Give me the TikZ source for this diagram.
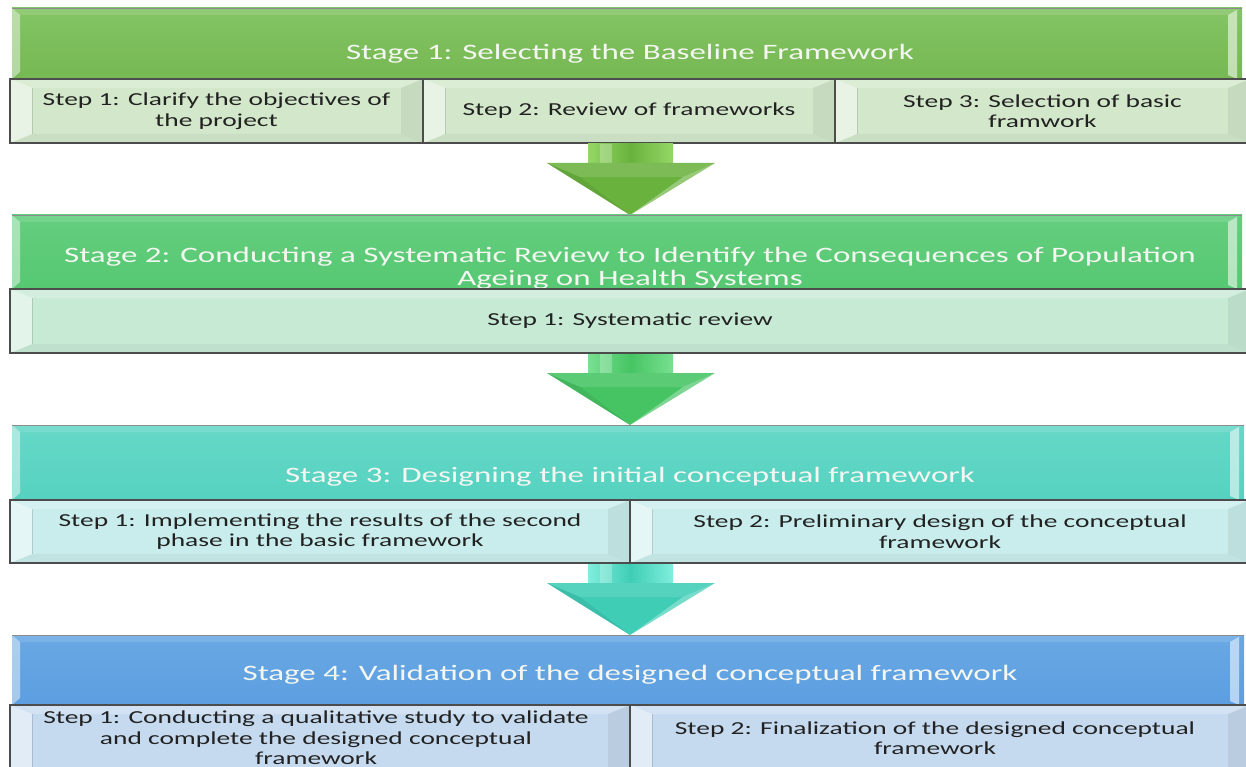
\documentclass[tikz,border=0pt]{standalone}
\usepackage{fontspec}
\setmainfont{Carlito}[FakeStretch=1.5]
\usetikzlibrary{calc}

% stage colours: bar top, bar bottom, cell fill, arrow main, arrow light
\definecolor{barAt}{HTML}{84C464}\definecolor{barAb}{HTML}{76B853}\definecolor{cellA}{HTML}{D3E8CB}
\definecolor{barBt}{HTML}{64CE7E}\definecolor{barBb}{HTML}{56C872}\definecolor{cellB}{HTML}{C7EAD5}
\definecolor{barCt}{HTML}{66D8C8}\definecolor{barCb}{HTML}{56D2C0}\definecolor{cellC}{HTML}{C9EDEC}
\definecolor{barDt}{HTML}{69A8E4}\definecolor{barDb}{HTML}{5C9EE0}\definecolor{cellD}{HTML}{C6DAEF}
\definecolor{arrA}{HTML}{6AB23E}\definecolor{arrAl}{HTML}{94D766}
\definecolor{arrB}{HTML}{46C463}\definecolor{arrBl}{HTML}{78E090}
\definecolor{arrC}{HTML}{3FCDB6}\definecolor{arrCl}{HTML}{80EEDC}
\definecolor{bartext}{HTML}{F3F6F1}
\definecolor{celltextc}{HTML}{222222}
\definecolor{rimgray}{HTML}{4C4C4C}

\tikzset{
  bartitle/.style={text=bartext, font=\fontsize{22}{23}\selectfont, align=center, inner sep=0pt},
  celltext/.style={text=celltextc, font=\fontsize{18.3}{20.5}\selectfont, align=center, inner sep=0pt},
  cellrim/.style={draw=rimgray, line width=1.3pt},
  barrim/.style={draw=black!45, line width=0.6pt},
}

% a bevelled step cell: name, x1, y1, x2, y2, fill, text
\newcommand{\stepcell}[7]{%
  \fill[#6] (#2,#3) rectangle (#4,#5);
  \fill[white,opacity=.22] (#2,#3) -- (#4,#3) -- ({#4-22},{#3+9}) -- ({#2+22},{#3+9}) -- cycle;
  \fill[black,opacity=.04] (#2,#5) -- (#4,#5) -- ({#4-22},{#5-9}) -- ({#2+22},{#5-9}) -- cycle;
  \fill[white,opacity=.5] (#2,#3) -- ({#2+22},{#3+9}) -- ({#2+22},{#5-9}) -- (#2,#5) -- cycle;
  \fill[black,opacity=.06] (#4,#3) -- ({#4-22},{#3+9}) -- ({#4-22},{#5-9}) -- (#4,#5) -- cycle;
  \draw[black,opacity=.14,line width=0.6pt] ({#2+22},{#3+9}) -- ({#2+22},{#5-9});
  \draw[cellrim] (#2,#3) rectangle (#4,#5);
  \node[celltext] (#1) at ({(#2+#4)/2},{(#3+#5)/2}) {#7};
}

% a bevelled stage bar: x1, y1, x2, y2, top colour, bottom colour
\newcommand{\stagebar}[6]{%
  \shade[top color=#5, bottom color=#6] (#1,#2) rectangle (#3,#4);
  \fill[white,opacity=.12] (#1,#2) -- (#3,#2) -- ({#3-14},{#2+7}) -- ({#1+8},{#2+7}) -- cycle;
  \fill[white,opacity=.45] (#1,#2) -- ({#1+8},{#2+7}) -- ({#1+8},{#4-7}) -- (#1,#4) -- cycle;
  \fill[white,opacity=.55] ({#3-14},{#2+7}) -- ({#3-5},{#2+2}) -- ({#3-5},#4) -- ({#3-14},{#4-4}) -- cycle;
  \draw[barrim] (#1,#2) -- (#3,#2);
}

% a block arrow between stages: shaft top y, head y, tip y, main colour, light colour
\newcommand{\flowarrow}[5]{%
  \shade[left color=#5, right color=#5, middle color=#4] (588,#1) rectangle (673,{#2+2});
  \fill[white,opacity=.25] (600,#1) rectangle (612,{#2+2});
  \fill[#4] (547,#2) -- (715,#2) -- (630,#3) -- cycle;
  \fill[white,opacity=.12] (547,#2) -- (715,#2) -- (683,{#2+14}) -- (580,{#2+14}) -- cycle;
  \fill[black,opacity=.07] (547,#2) -- (580,{#2+14}) -- (630,#3) -- cycle;
  \fill[white,opacity=.30] (715,#2) -- (683,{#2+14}) -- (630,#3) -- cycle;
}

\begin{document}
\begin{tikzpicture}[x=1pt,y=-1pt]
\useasboundingbox (0,0) rectangle (1246,767);
\clip (0,0) rectangle (1246,767);
\fill[white] (0,0) rectangle (1246,767);

% ---------- Stage 1 ----------
\stagebar{12}{8}{1242}{79}{barAt}{barAb}
\node[bartitle] (s1) at (630,54) {Stage 1: Selecting the Baseline Framework};
\stepcell{s1a}{10}{79}{423}{143}{cellA}{Step 1: Clarify the objectives of\\the project}
\stepcell{s1b}{423}{79}{835}{143}{cellA}{Step 2: Review of frameworks}
\stepcell{s1c}{835}{79}{1250}{143}{cellA}{Step 3: Selection of basic\\framwork}

\flowarrow{144}{163}{215}{arrA}{arrAl}

% ---------- Stage 2 ----------
\stagebar{12}{215}{1242}{289}{barBt}{barBb}
\node[bartitle] (s2) at (630,268) {Stage 2: Conducting a Systematic Review to Identify the Consequences of Population\\Ageing on Health Systems};
\stepcell{s2a}{10}{289}{1250}{353}{cellB}{Step 1: Systematic review}

\flowarrow{354}{373}{425}{arrB}{arrBl}

% ---------- Stage 3 ----------
\stagebar{12}{425}{1244}{500}{barCt}{barCb}
\node[bartitle] (s3) at (630,477) {Stage 3: Designing the initial conceptual framework};
\stepcell{s3a}{10}{500}{630}{563}{cellC}{Step 1: Implementing the results of the second\\phase in the basic framework}
\stepcell{s3b}{630}{500}{1250}{563}{cellC}{Step 2: Preliminary design of the conceptual\\framework}

\flowarrow{564}{583}{635}{arrC}{arrCl}

% ---------- Stage 4 ----------
\stagebar{12}{635}{1244}{705}{barDt}{barDb}
\node[bartitle] (s4) at (630,675) {Stage 4: Validation of the designed conceptual framework};
\stepcell{s4a}{10}{705}{630}{790}{cellD}{}
\node[celltext] (s4at) at (316,738) {Step 1: Conducting a qualitative study to validate\\and complete the designed conceptual\\framework};
\stepcell{s4b}{630}{705}{1250}{790}{cellD}{}
\node[celltext] (s4bt) at (935,738) {Step 2: Finalization of the designed conceptual\\framework};
\end{tikzpicture}
\end{document}
